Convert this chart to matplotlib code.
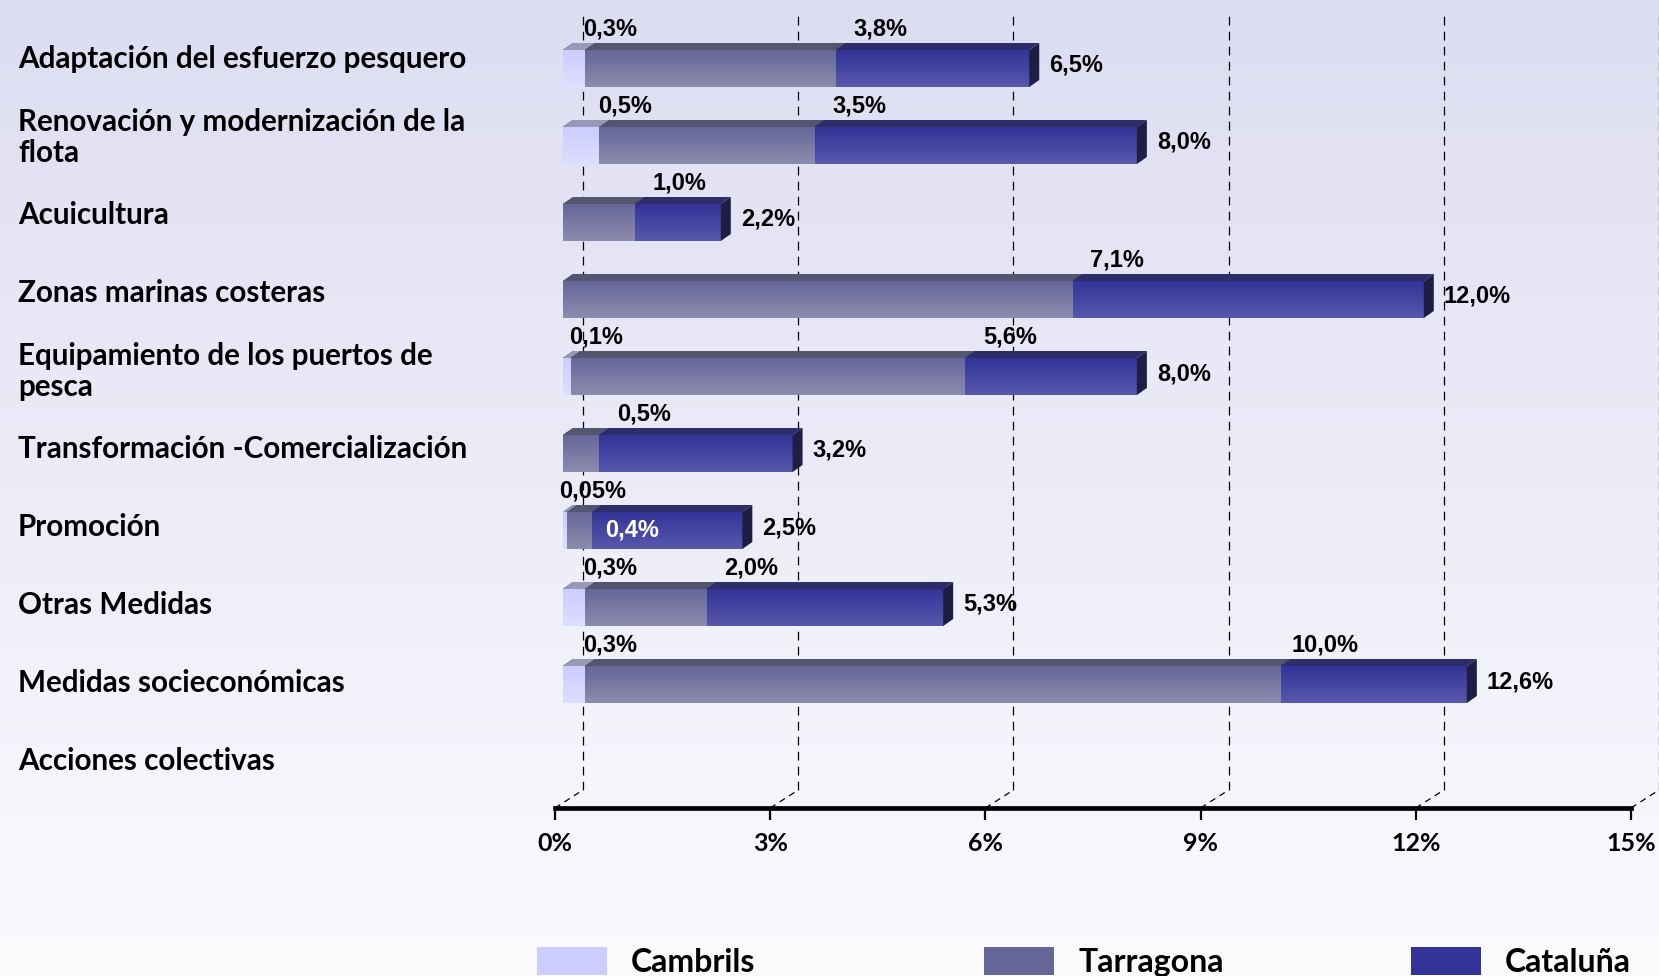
import numpy as np
import matplotlib
matplotlib.use('Agg')
import matplotlib.pyplot as plt
from matplotlib.patches import Polygon, Patch
from matplotlib.colors import to_rgb
import matplotlib.transforms as mtransforms

# ---------------- data ----------------
categories = ["Adaptación del esfuerzo pesquero",
              "Renovación y modernización de la\nflota",
              "Acuicultura",
              "Zonas marinas costeras",
              "Equipamiento de los puertos de\npesca",
              "Transformación -Comercialización",
              "Promoción",
              "Otras Medidas",
              "Medidas socieconómicas",
              "Acciones colectivas"]
cambrils = [0.3, 0.5, None, None, 0.1, None, 0.05, 0.3, 0.3, None]
tarragona = [3.8, 3.5, 1.0, 7.1, 5.6, 0.5, 0.4, 2.0, 10.0, None]
cataluna = [6.5, 8.0, 2.2, 12.0, 8.0, 3.2, 2.5, 5.3, 12.6, None]
series_names = ["Cambrils", "Tarragona", "Cataluña"]
xticks = [0, 3, 6, 9, 12, 15]
xtick_labels = ["0%", "3%", "6%", "9%", "12%", "15%"]

# ---------------- style ----------------
W, H = 1659, 976
CAT_FONT = "Lato"
VAL_FONT = "Liberation Sans"
colors = {
    "Cambrils": dict(top="#CCCCFF", bottom="#DEDEFF", lid="#9898B8", side="#8A8AB0"),
    "Tarragona": dict(top="#666699", bottom="#8C8CAF", lid="#55556F", side="#44445F"),
    "Cataluña": dict(top="#333399", bottom="#5858AC", lid="#2D2D6A", side="#1E1E44"),
}

def fmt(v):
    s = f"{v:.2f}" if v < 0.1 else f"{v:.1f}"
    return s.replace(".", ",") + "%"

fig = plt.figure(figsize=(W / 100, H / 100), dpi=100)

# background gradient
bg = fig.add_axes([0, 0, 1, 1], zorder=-10)
t = np.linspace(0, 1, 256)[:, None, None]
c_top = np.array(to_rgb("#DDDDF2"))
c_bot = np.array(to_rgb("#FBFBFE"))
grad = c_top * (1 - t) + c_bot * t
bg.imshow(grad, extent=(0, 1, 0, 1), aspect="auto", interpolation="bilinear")
bg.set_axis_off()

# main axes: x=0..15 on front floor edge
ax_l, ax_r = 555, 1631
ax_b = 808
ax = fig.add_axes([ax_l / W, (H - ax_b) / H, (ax_r - ax_l) / W, ax_b / H])
ax.set_facecolor("none")
ymax = (ax_b - 68.5) / 77.0
ymin = (0 - 68.5) / 77.0
ppx = (ax_r - ax_l) / 15.0
ppy = 77.0
dxd = lambda p: p / ppx
dyd = lambda p: p / ppy

x0 = dxd(8)           # bar front-face start offset
hh = dyd(18.5)        # half height of bar front face
ddx, ddy = dxd(10), -dyd(7)   # bar depth

# back wall gridlines and floor diagonals
ybf = ymax - dyd(18)
ytop = (15 - 68.5) / 77.0
for tv in xticks:
    bx = tv + dxd(28)
    ax.plot([tv, bx], [ymax, ybf], color="black", lw=0.9,
            linestyle=(0, (5, 4)), zorder=1, clip_on=False)
    ax.plot([bx, bx], [ybf, ytop], color="black", lw=0.9,
            linestyle=(0, (7, 5)), zorder=1, clip_on=False)

def draw_bar(i, v, name, side, z):
    c = colors[name]
    g = np.linspace(0, 1, 64)[:, None, None]
    img = np.array(to_rgb(c["top"])) * (1 - g) + np.array(to_rgb(c["bottom"])) * g
    ax.imshow(img, extent=(x0, x0 + v, i + hh, i - hh), aspect="auto",
              interpolation="bilinear", zorder=z, clip_on=False)
    top = [(x0, i - hh), (x0 + v, i - hh), (x0 + v + ddx, i - hh + ddy), (x0 + ddx, i - hh + ddy)]
    ax.add_patch(Polygon(top, closed=True, facecolor=c["lid"], edgecolor="none",
                         zorder=z, clip_on=False))
    if side:
        rs = [(x0 + v, i - hh), (x0 + v + ddx, i - hh + ddy),
              (x0 + v + ddx, i + hh + ddy), (x0 + v, i + hh)]
        ax.add_patch(Polygon(rs, closed=True, facecolor=c["side"], edgecolor="none",
                             zorder=z, clip_on=False))

lab_kw = dict(fontfamily=VAL_FONT, fontweight="bold", fontsize=17, zorder=10)
for i in range(len(categories)):
    vals = [cambrils[i], tarragona[i], cataluna[i]]
    present = [v for v in vals if v is not None]
    if not present:
        continue
    vmax = max(present)
    for k in (2, 1, 0):
        v = vals[k]
        if v is None:
            continue
        draw_bar(i, v, series_names[k], side=(v == vmax and k == 2), z=3 + (2 - k))
    ylab = i - hh + ddy - dyd(14)
    cam, tar, cat = vals
    if cam is not None:
        ax.text(x0 + cam + dxd(26), ylab, fmt(cam), ha="center", va="center", **lab_kw)
    if tar is not None:
        if cam is not None and tar - cam < 0.5:
            ax.text(x0 + tar + dxd(40), i, fmt(tar), ha="center", va="center",
                    color="white", **lab_kw)
        else:
            ax.text(x0 + tar + dxd(45), ylab, fmt(tar), ha="center", va="center", **lab_kw)
    if cat is not None:
        ax.text(x0 + cat + dxd(20), i - dyd(3), fmt(cat), ha="left", va="center", **lab_kw)

# category labels
btf = mtransforms.blended_transform_factory(fig.transFigure, ax.transData)
for i, c in enumerate(categories):
    ax.text(18 / W, i + dyd(i - 9), c, transform=btf, ha="left", va="center",
            fontfamily=CAT_FONT, fontweight="bold", fontsize=21.3, linespacing=1.17)

ax.set_xlim(0, 15)
ax.set_ylim(ymax, ymin)
ax.set_xticks(xticks)
ax.set_xticklabels(xtick_labels, fontfamily=CAT_FONT, fontweight="bold", fontsize=18)
ax.set_yticks([])
for s in ("top", "right", "left"):
    ax.spines[s].set_visible(False)
ax.spines["bottom"].set_linewidth(3.4)
ax.tick_params(axis="x", length=8.6, width=1.6, direction="out", pad=9, color="black")

# legend (three entries at their own positions)
leg_pos = [537, 984, 1411]
for name, xp in zip(series_names, leg_pos):
    h = Patch(facecolor=colors[name]["top"], edgecolor="none")
    fig.legend([h], [name], loc="center left", bbox_to_anchor=(xp / W, 1 - 962 / H),
               frameon=False, borderpad=0, borderaxespad=0, handlelength=2.2,
               handleheight=1.0, handletextpad=0.75,
               prop=dict(family=CAT_FONT, weight="bold", size=23))

fig.savefig("out.png", dpi=100)
